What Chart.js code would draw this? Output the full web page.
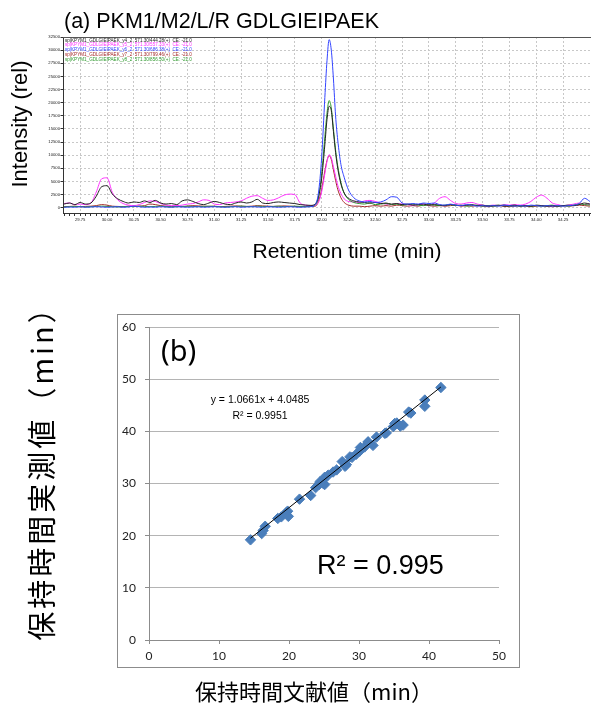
<!DOCTYPE html>
<html><head><meta charset="utf-8">
<script src="https://cdn.jsdelivr.net/npm/chart.js@4.4.0/dist/chart.umd.min.js"></script>
<style>
html,body{margin:0;padding:0;background:#fff;width:591px;height:709px;overflow:hidden;}
#ca{position:absolute;left:0;top:0;}
#cb{position:absolute;left:0;top:270px;}
</style></head><body>
<canvas id="ca" width="591" height="270"></canvas>
<canvas id="cb" width="591" height="439"></canvas>
<script>
// ---------- (a) chromatogram data ----------
const retentionTimes = [
 29.60,29.65,29.70,29.75,29.80,29.85,29.90,29.95,30.00,30.05,30.10,30.15,30.20,30.25,30.30,30.35,30.40,30.45,30.50,30.55,
 30.60,30.65,30.70,30.75,30.80,30.85,30.90,30.95,31.00,31.05,31.10,31.15,31.20,31.25,31.30,31.35,31.40,31.45,31.50,31.55,
 31.60,31.65,31.70,31.75,31.80,31.85,31.90,
 31.94,31.97,32.00,32.03,32.05,32.07,32.09,32.11,32.13,32.15,32.18,32.21,32.25,32.30,
 32.35,32.40,32.45,32.50,32.55,32.60,32.65,32.70,32.75,32.80,32.85,32.90,32.95,33.00,33.05,33.10,33.15,33.20,33.25,33.30,
 33.35,33.40,33.45,33.50,33.55,33.60,33.65,33.70,33.75,33.80,33.85,33.90,33.95,34.00,34.05,34.10,34.15,34.20,34.25,34.30,
 34.35,34.40,34.45,34.50];
const intensityY4 = [
 700,900,600,1000,700,900,2200,4000,4200,2600,1700,1200,900,1100,1000,1300,1000,1400,900,700,
 800,600,1300,1500,1200,800,600,900,1200,1000,700,600,900,1100,900,1100,1600,900,800,1000,
 1100,1000,900,800,600,500,450,
 700,2000,5500,12000,16800,19300,18500,14500,10500,7500,4500,2800,1800,1300,
 1100,1000,900,1000,800,900,700,800,600,700,500,600,700,500,600,500,400,600,500,400,
 500,600,400,500,300,400,500,300,400,500,300,400,300,500,400,300,400,300,400,500,
 400,600,900,700];
const intensityY5 = [
 800,900,600,700,600,900,3000,5500,5700,2900,1500,800,500,400,600,1000,1300,1200,800,500,
 400,400,500,700,800,1100,1500,1400,700,600,900,1000,1100,1300,1800,2200,2300,1800,1400,1500,
 1900,2400,2600,2500,900,500,400,
 500,1000,3000,6500,8800,10100,9500,7800,6000,4300,2700,1700,1200,1100,
 1000,1300,1400,1200,900,700,600,800,700,600,500,600,700,500,900,1800,2100,1400,800,700,
 900,1000,700,500,400,500,400,600,500,600,500,700,1200,2000,2400,1800,900,600,400,500,
 700,900,600,700];
const intensityY6 = [
 100,150,100,200,100,150,200,150,100,150,200,100,150,300,200,100,150,100,200,150,
 100,200,150,100,150,200,100,150,200,150,100,150,200,100,150,200,150,100,200,150,
 100,150,200,150,100,150,200,
 600,2800,9500,21000,28000,32000,30000,24500,17500,12900,8200,5800,3400,1900,
 1300,1100,1200,1000,1100,1500,2100,2000,900,700,800,700,900,800,900,600,500,700,500,400,
 600,500,300,400,300,400,300,500,400,300,400,300,500,400,300,400,300,400,300,400,
 500,800,1800,1200];
const intensityY7 = [
 200,250,300,200,250,300,400,600,500,300,250,200,300,250,300,400,700,600,400,300,
 250,300,200,300,400,350,300,250,300,200,250,300,350,300,250,300,400,350,300,250,
 300,350,300,250,200,250,300,
 300,1200,3500,7000,9000,9900,9200,7200,5200,3500,1900,1000,500,300,
 300,200,300,400,300,400,300,500,400,300,400,300,500,400,300,400,300,400,500,300,
 400,300,400,300,200,300,400,300,200,300,400,300,200,300,400,300,200,300,400,300,
 400,500,400,300];
const intensityY8 = [
 150,200,250,200,150,200,250,300,250,200,150,200,250,200,300,250,200,250,300,200,
 150,200,250,300,250,200,250,300,250,200,150,200,250,300,250,200,300,250,200,250,
 300,200,250,300,250,200,250,
 500,2000,6500,13500,18000,20400,19000,15000,11000,8000,4800,2800,1600,1000,
 800,700,900,600,700,800,600,700,500,600,700,500,400,600,500,400,500,600,400,500,
 300,400,500,300,400,300,400,500,300,400,300,400,300,400,300,400,500,300,400,300,
 500,700,600,500];
const traceNames = [
 'sp|KPYM1_GDLGIEIPAEK_y4_2  571.30/444.28(+)  CE: -21.0',
 'sp|KPYM1_GDLGIEIPAEK_y5_2  571.30/557.33(+)  CE: -21.0',
 'sp|KPYM1_GDLGIEIPAEK_y6_2  571.30/686.38(+)  CE: -21.0',
 'sp|KPYM1_GDLGIEIPAEK_y7_2  571.30/799.46(+)  CE: -21.0',
 'sp|KPYM1_GDLGIEIPAEK_y8_2  571.30/856.50(+)  CE: -21.0'];
const traceValues = [intensityY4, intensityY5, intensityY6, intensityY7, intensityY8];
const traceColors = ['#222222', '#ff33ff', '#3344ff', '#a52a2a', '#2e9a2e'];
const traceOrder = [1, 3, 0, 4, 2];
const xTickLabelsA = ['29.75','30.00','30.25','30.50','30.75','31.00','31.25','31.50','31.75','32.00',
 '32.25','32.50','32.75','33.00','33.25','33.50','33.75','34.00','34.25'];
const yTickLabelsA = ['0','2500','5000','7500','10000','12500','15000','17500','20000','22500',
 '25000','27500','30000','32500'];

// ---------- (b) scatter data ----------
const literatureRT = [14.5,16.1,16.3,16.6,18.4,18.9,19.6,19.9,19.8,21.5,23.1,23.8,24.3,24.4,24.9,25.1,24.9,25.1,25.6,26.3,
 26.8,27.6,28.0,28.2,28.7,29.0,29.6,30.1,30.2,30.8,31.3,31.3,32.0,32.5,33.7,33.9,34.9,35.1,35.4,35.9,
 36.3,37.1,37.4,39.4,39.4,41.7];
const measuredRT = [19.2,20.4,21.0,21.8,23.3,23.6,24.4,23.7,24.7,27.0,27.7,29.2,29.8,30.3,30.0,29.8,30.7,31.2,31.6,32.2,
 32.6,34.2,33.3,33.6,35.1,35.0,35.6,36.2,36.9,37.0,37.8,38.0,37.3,38.9,39.6,39.7,40.9,41.5,41.6,41.0,
 41.2,43.7,43.5,46.0,44.8,48.4];
const fitSlope = 1.0661, fitIntercept = 4.0485;
const xTickLabelsB = ['0','10','20','30','40','50'];
const yTickLabelsB = ['0','10','20','30','40','50','60'];

// ---------- (a) chart ----------
const majorA = xTickLabelsA.map(parseFloat);
const minorA = [];
for (let i = 0; i <= 98; i++) minorA.push(Math.round((29.60 + i * 0.05) * 100) / 100);
const isMajorA = v => majorA.some(m => Math.abs(m - v) < 1e-6);

const textA = {
  id: 'textA',
  afterDraw(chart) {
    const ctx = chart.ctx, ca = chart.chartArea;
    ctx.save();
    ctx.strokeStyle = '#555'; ctx.lineWidth = 1;
    ctx.beginPath(); ctx.moveTo(ca.left, ca.top + 0.5); ctx.lineTo(ca.right, ca.top + 0.5); ctx.stroke();
    ctx.font = '4.6px "Liberation Sans"'; ctx.textBaseline = 'top'; ctx.textAlign = 'left';
    traceNames.forEach((n, i) => { ctx.fillStyle = traceColors[i]; ctx.fillText(n, ca.left + 2, ca.top + 1 + i * 4.8); });
    ctx.fillStyle = '#000'; ctx.textBaseline = 'alphabetic';
    ctx.font = '21.5px "Liberation Sans"';
    ctx.fillText('(a) PKM1/M2/L/R GDLGIEIPAEK', 64, 28);
    ctx.textAlign = 'center'; ctx.textBaseline = 'middle';
    ctx.font = '21px "Liberation Sans"';
    ctx.fillText('Retention time (min)', 347, 252);
    ctx.font = '22px "Liberation Sans"';
    ctx.translate(21, 124); ctx.rotate(-Math.PI / 2);
    ctx.fillText('Intensity (rel)', 0, 0);
    ctx.restore();
  }
};

new Chart(document.getElementById('ca'), {
  type: 'line',
  data: {
    datasets: traceValues.map((vals, k) => ({
      label: traceNames[k],
      data: retentionTimes.map((t, i) => ({x: t, y: vals[i]})),
      borderColor: traceColors[k],
      borderWidth: 1,
      pointRadius: 0,
      cubicInterpolationMode: 'monotone',
      order: traceOrder[k]
    }))
  },
  options: {
    responsive: false, animation: false,
    layout: {padding: {top: 37, left: 0, right: 0, bottom: 0}},
    plugins: {legend: {display: false}, tooltip: {enabled: false}},
    scales: {
      x: {
        type: 'linear', min: 29.59, max: 34.51,
        afterBuildTicks: s => { s.ticks = minorA.map(v => ({value: v})); },
        afterFit: s => { s.height = 57; },
        ticks: {
          autoSkip: false, maxRotation: 0, minRotation: 0, padding: 1, color: '#222',
          font: {size: 4.2, family: 'Liberation Sans'},
          callback: v => { const k = majorA.findIndex(m => Math.abs(m - v) < 1e-6); return k >= 0 ? xTickLabelsA[k] : ''; }
        },
        grid: {
          color: c => (c.tick && isMajorA(c.tick.value)) ? '#c8c8c8' : 'rgba(0,0,0,0)',
          tickColor: '#333', tickLength: 3, lineWidth: 1
        },
        border: {color: '#333', width: 1, dash: [2, 2]}
      },
      y: {
        min: -1000, max: 32500,
        afterBuildTicks: s => { s.ticks = yTickLabelsA.map(v => ({value: parseFloat(v)})); },
        afterFit: s => { s.width = 63; },
        ticks: {padding: 0.5, color: '#222', font: {size: 4.2, family: 'Liberation Sans'},
          callback: (v, i) => yTickLabelsA[i]},
        grid: {color: '#c8c8c8', tickColor: '#333', tickLength: 2.5, lineWidth: 1},
        border: {color: '#333', width: 1, dash: [2, 2]}
      }
    }
  },
  plugins: [textA]
});

// ---------- (b) chart ----------
const fitX = [Math.min(...literatureRT), Math.max(...literatureRT)];
const textB = {
  id: 'textB',
  beforeDraw(chart) {
    const ctx = chart.ctx;
    ctx.save();
    ctx.fillStyle = '#fff'; ctx.fillRect(0, 0, chart.width, chart.height);
    ctx.strokeStyle = '#8c8c8c'; ctx.lineWidth = 1;
    ctx.strokeRect(117.5, 44.5, 402, 353);
    ctx.restore();
  },
  afterDraw(chart) {
    const ctx = chart.ctx;
    ctx.save();
    ctx.fillStyle = '#000';
    ctx.textAlign = 'left'; ctx.textBaseline = 'alphabetic';
    ctx.font = '29px "Noto Sans"';
    ctx.fillText('(b)', 161, 91);
    ctx.textAlign = 'center'; ctx.textBaseline = 'middle';
    ctx.font = '10.5px "Liberation Sans"';
    ctx.fillText('y = ' + fitSlope.toFixed(4) + 'x + ' + fitIntercept.toFixed(4), 260, 130);
    ctx.fillText('R² = 0.9951', 260, 146);
    ctx.textAlign = 'left'; ctx.textBaseline = 'alphabetic';
    ctx.font = '27px "Liberation Sans"';
    ctx.fillText('R² = 0.995', 317, 304);
    ctx.textAlign = 'center'; ctx.textBaseline = 'middle';
    ctx.font = '22px "Noto Sans CJK JP"';
    ctx.fillText('保持時間文献値（min）', 314, 422);
    ctx.translate(42, 196); ctx.rotate(-Math.PI / 2);
    ctx.font = '29px "Noto Sans CJK JP"';
    try { ctx.letterSpacing = '3px'; } catch (e) {}
    ctx.fillText('保持時間実測値（min）', 0, 0);
    ctx.restore();
  }
};

new Chart(document.getElementById('cb'), {
  type: 'scatter',
  data: {
    datasets: [
      {type: 'line', data: fitX.map(x => ({x: x, y: fitSlope * x + fitIntercept})),
        borderColor: '#000', borderWidth: 1, pointRadius: 0, order: 0},
      {type: 'scatter', data: literatureRT.map((x, i) => ({x: x, y: measuredRT[i]})),
        pointStyle: 'rectRot', pointRadius: 5.2, backgroundColor: '#4a7ebb', borderColor: '#4a7ebb', borderWidth: 1, order: 1}
    ]
  },
  options: {
    responsive: false, animation: false,
    layout: {padding: {top: 57, left: 0, right: 92, bottom: 0}},
    plugins: {legend: {display: false}, tooltip: {enabled: false}},
    scales: {
      x: {
        type: 'linear', min: 0, max: 50,
        afterBuildTicks: s => { s.ticks = xTickLabelsB.map(v => ({value: parseFloat(v)})); },
        afterFit: s => { s.height = 69; },
        ticks: {padding: 5, color: '#222', font: {size: 12, family: 'Lato'}, maxRotation: 0,
          callback: (v, i) => xTickLabelsB[i]},
        grid: {drawOnChartArea: false, tickColor: '#8c8c8c', tickLength: 4},
        border: {color: '#8c8c8c', width: 1}
      },
      y: {
        min: 0, max: 60,
        afterBuildTicks: s => { s.ticks = yTickLabelsB.map(v => ({value: parseFloat(v)})); },
        afterFit: s => { s.width = 149; },
        ticks: {padding: 9, color: '#222', font: {size: 12, family: 'Lato'},
          callback: (v, i) => yTickLabelsB[i]},
        grid: {color: '#b4b4b4', tickColor: '#8c8c8c', tickLength: 4, lineWidth: 1},
        border: {color: '#8c8c8c', width: 1}
      }
    }
  },
  plugins: [textB]
});
</script>
</body></html>
